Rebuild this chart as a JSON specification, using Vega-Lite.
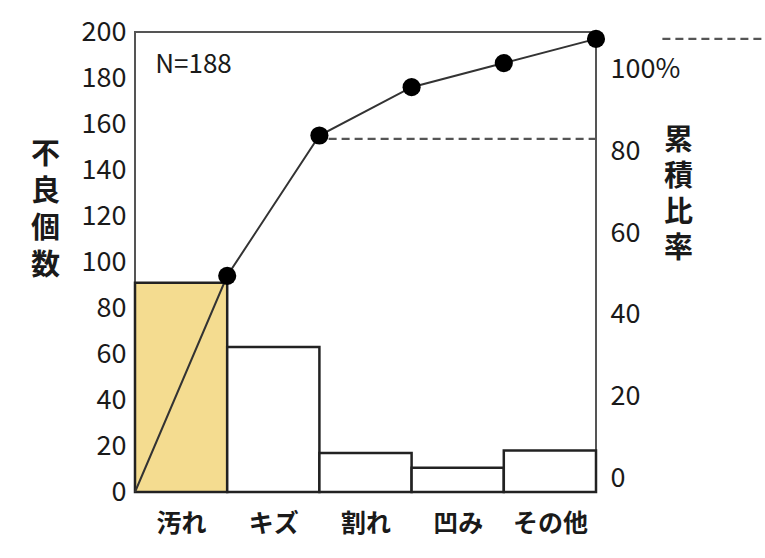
{
  "$schema": "https://vega.github.io/schema/vega-lite/v6.json",
  "width": 461,
  "height": 460,
  "autosize": "none",
  "padding": {"left": 135, "top": 32, "right": 169, "bottom": 66},
  "background": "white",
  "config": {
    "font": "Noto Sans CJK JP",
    "view": {"stroke": "#555", "strokeWidth": 2},
    "axis": {"grid": false, "domain": false, "ticks": false, "labelColor": "#1a1a1a", "titleColor": "#1a1a1a"}
  },
  "datasets": {
    "bars": [
      {"cat": "汚れ", "x": 0, "xe": 1, "v": 91},
      {"cat": "キズ", "x": 1, "xe": 2, "v": 63},
      {"cat": "割れ", "x": 2, "xe": 3, "v": 17},
      {"cat": "凹み", "x": 3, "xe": 4, "v": 10.5},
      {"cat": "その他", "x": 4, "xe": 5, "v": 18}
    ],
    "cum": [
      {"x": 0, "v": 0},
      {"x": 1, "v": 94},
      {"x": 2, "v": 155},
      {"x": 3, "v": 176},
      {"x": 4, "v": 186.5},
      {"x": 5, "v": 197}
    ],
    "pct": [{"p": 0}, {"p": 100}],
    "note": [{"label": "N=188"}]
  },
  "layer": [
    {
      "layer": [
        {
          "data": {"name": "bars"},
          "mark": {"type": "rect", "stroke": "#222", "strokeWidth": 2.5},
          "encoding": {
            "x": {
              "field": "x", "type": "quantitative",
              "scale": {"domain": [0, 5], "nice": false, "zero": false},
              "axis": {
                "values": [0.5, 1.5, 2.5, 3.5, 4.5],
                "labelExpr": "['汚れ','キズ','割れ','凹み','その他'][floor(datum.value)]",
                "labelFontSize": 25, "labelFontWeight": "bold", "labelPadding": 19,
                "title": null
              }
            },
            "x2": {"field": "xe"},
            "y": {
              "field": "v", "type": "quantitative",
              "scale": {"domain": [0, 200], "nice": false},
              "axis": {
                "values": [0, 20, 40, 60, 80, 100, 120, 140, 160, 180, 200],
                "labelFontSize": 27, "labelPadding": 9,
                "title": ["不", "良", "個", "数"],
                "titleAngle": 0, "titleFontSize": 29, "titleFontWeight": "bold",
                "titleLineHeight": 37, "titleAlign": "center", "titleBaseline": "top",
                "titleX": -90, "titleY": 108
              }
            },
            "y2": {"datum": 0},
            "color": {
              "field": "cat", "type": "nominal",
              "scale": {"domain": ["汚れ", "キズ", "割れ", "凹み", "その他"], "range": ["#f4dc90", "#ffffff", "#ffffff", "#ffffff", "#ffffff"]},
              "legend": null
            }
          }
        },
        {
          "data": {"name": "cum"},
          "mark": {"type": "line", "color": "#333", "strokeWidth": 2},
          "encoding": {
            "x": {"field": "x", "type": "quantitative"},
            "y": {"field": "v", "type": "quantitative"}
          }
        },
        {
          "data": {"name": "cum"},
          "transform": [{"filter": "datum.x > 0"}],
          "mark": {"type": "circle", "size": 330, "color": "#000", "opacity": 1},
          "encoding": {
            "x": {"field": "x", "type": "quantitative"},
            "y": {"field": "v", "type": "quantitative"}
          }
        },
        {
          "data": {"name": "note"},
          "mark": {"type": "rule", "color": "#555", "strokeWidth": 2.2, "strokeDash": [8, 5]},
          "encoding": {"x": {"datum": 2.1}, "x2": {"datum": 5}, "y": {"datum": 153.5}}
        },
        {
          "data": {"name": "note"},
          "mark": {"type": "rule", "color": "#555", "strokeWidth": 2.2, "strokeDash": [8, 5]},
          "encoding": {"x": {"datum": 5.72}, "x2": {"datum": 6.9}, "y": {"datum": 197}}
        },
        {
          "data": {"name": "note"},
          "mark": {"type": "text", "align": "left", "baseline": "middle", "fontSize": 26, "color": "#1a1a1a"},
          "encoding": {"x": {"datum": 0.22}, "y": {"datum": 185.5}, "text": {"field": "label"}}
        }
      ]
    },
    {
      "data": {"name": "pct"},
      "mark": {"type": "point", "opacity": 0},
      "encoding": {
        "y": {
          "field": "p", "type": "quantitative",
          "scale": {"domain": [-3.43, 109.3], "nice": false, "zero": false},
          "axis": {
            "orient": "right",
            "values": [0, 20, 40, 60, 80, 100],
            "labelExpr": "datum.value == 100 ? '100%' : datum.label",
            "labelFontSize": 27, "labelPadding": 14, "labelAlign": "left",
            "title": ["累", "積", "比", "率"],
            "titleAngle": 0, "titleFontSize": 29, "titleFontWeight": "bold",
            "titleLineHeight": 36, "titleAlign": "center", "titleBaseline": "top",
            "titleX": 82, "titleY": 94
          }
        }
      }
    }
  ],
  "resolve": {"scale": {"y": "independent"}}
}
